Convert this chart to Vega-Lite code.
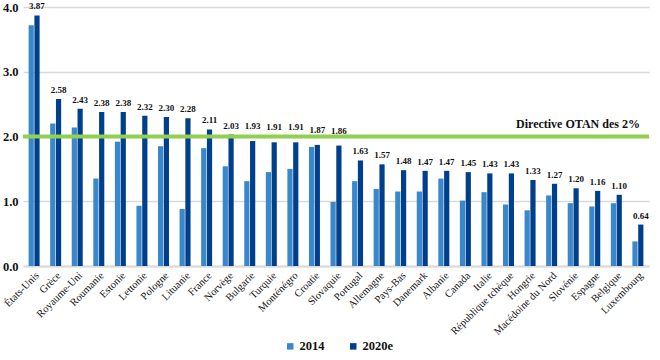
{
  "$schema": "https://vega.github.io/schema/vega-lite/v6.json",
  "width": 626,
  "height": 259,
  "padding": {"left": 2, "top": 1, "right": 6, "bottom": 0},
  "config": {"font": "Liberation Serif", "view": {"stroke": null}},
  "data": {"values": [
    {"pays": "États-Unis", "annee": "2014", "valeur": 3.72},
    {"pays": "États-Unis", "annee": "2020e", "valeur": 3.87},
    {"pays": "Grèce", "annee": "2014", "valeur": 2.20},
    {"pays": "Grèce", "annee": "2020e", "valeur": 2.58},
    {"pays": "Royaume-Uni", "annee": "2014", "valeur": 2.14},
    {"pays": "Royaume-Uni", "annee": "2020e", "valeur": 2.43},
    {"pays": "Roumanie", "annee": "2014", "valeur": 1.35},
    {"pays": "Roumanie", "annee": "2020e", "valeur": 2.38},
    {"pays": "Estonie", "annee": "2014", "valeur": 1.92},
    {"pays": "Estonie", "annee": "2020e", "valeur": 2.38},
    {"pays": "Lettonie", "annee": "2014", "valeur": 0.93},
    {"pays": "Lettonie", "annee": "2020e", "valeur": 2.32},
    {"pays": "Pologne", "annee": "2014", "valeur": 1.85},
    {"pays": "Pologne", "annee": "2020e", "valeur": 2.30},
    {"pays": "Lituanie", "annee": "2014", "valeur": 0.88},
    {"pays": "Lituanie", "annee": "2020e", "valeur": 2.28},
    {"pays": "France", "annee": "2014", "valeur": 1.82},
    {"pays": "France", "annee": "2020e", "valeur": 2.11},
    {"pays": "Norvège", "annee": "2014", "valeur": 1.54},
    {"pays": "Norvège", "annee": "2020e", "valeur": 2.03},
    {"pays": "Bulgarie", "annee": "2014", "valeur": 1.31},
    {"pays": "Bulgarie", "annee": "2020e", "valeur": 1.93},
    {"pays": "Turquie", "annee": "2014", "valeur": 1.45},
    {"pays": "Turquie", "annee": "2020e", "valeur": 1.91},
    {"pays": "Monténégro", "annee": "2014", "valeur": 1.50},
    {"pays": "Monténégro", "annee": "2020e", "valeur": 1.91},
    {"pays": "Croatie", "annee": "2014", "valeur": 1.84},
    {"pays": "Croatie", "annee": "2020e", "valeur": 1.87},
    {"pays": "Slovaquie", "annee": "2014", "valeur": 0.99},
    {"pays": "Slovaquie", "annee": "2020e", "valeur": 1.86},
    {"pays": "Portugal", "annee": "2014", "valeur": 1.31},
    {"pays": "Portugal", "annee": "2020e", "valeur": 1.63},
    {"pays": "Allemagne", "annee": "2014", "valeur": 1.19},
    {"pays": "Allemagne", "annee": "2020e", "valeur": 1.57},
    {"pays": "Pays-Bas", "annee": "2014", "valeur": 1.15},
    {"pays": "Pays-Bas", "annee": "2020e", "valeur": 1.48},
    {"pays": "Danemark", "annee": "2014", "valeur": 1.15},
    {"pays": "Danemark", "annee": "2020e", "valeur": 1.47},
    {"pays": "Albanie", "annee": "2014", "valeur": 1.35},
    {"pays": "Albanie", "annee": "2020e", "valeur": 1.47},
    {"pays": "Canada", "annee": "2014", "valeur": 1.01},
    {"pays": "Canada", "annee": "2020e", "valeur": 1.45},
    {"pays": "Italie", "annee": "2014", "valeur": 1.14},
    {"pays": "Italie", "annee": "2020e", "valeur": 1.43},
    {"pays": "République tchèque", "annee": "2014", "valeur": 0.95},
    {"pays": "République tchèque", "annee": "2020e", "valeur": 1.43},
    {"pays": "Hongrie", "annee": "2014", "valeur": 0.86},
    {"pays": "Hongrie", "annee": "2020e", "valeur": 1.33},
    {"pays": "Macédoine du Nord", "annee": "2014", "valeur": 1.09},
    {"pays": "Macédoine du Nord", "annee": "2020e", "valeur": 1.27},
    {"pays": "Slovénie", "annee": "2014", "valeur": 0.97},
    {"pays": "Slovénie", "annee": "2020e", "valeur": 1.20},
    {"pays": "Espagne", "annee": "2014", "valeur": 0.92},
    {"pays": "Espagne", "annee": "2020e", "valeur": 1.16},
    {"pays": "Belgique", "annee": "2014", "valeur": 0.97},
    {"pays": "Belgique", "annee": "2020e", "valeur": 1.10},
    {"pays": "Luxembourg", "annee": "2014", "valeur": 0.38},
    {"pays": "Luxembourg", "annee": "2020e", "valeur": 0.64}
  ]},
  "layer": [
    {
      "mark": {"type": "bar"},
      "encoding": {
        "x": {
          "field": "pays", "type": "nominal", "sort": null,
          "scale": {"paddingInner": 0.49, "paddingOuter": 0.26},
          "axis": {
            "title": null, "labelAngle": -45, "labelFontSize": 10.5, "labelColor": "#111111",
            "ticks": false, "domain": true, "domainColor": "#d9d9d9", "domainWidth": 2,
            "labelPadding": 4, "labelFont": "Liberation Serif"
          }
        },
        "xOffset": {"field": "annee", "type": "nominal", "scale": {"paddingInner": 0.1, "paddingOuter": 0}},
        "y": {
          "field": "valeur", "type": "quantitative",
          "scale": {"domain": [0, 4]},
          "axis": {
            "title": null, "values": [0, 0.5, 1, 1.5, 2, 2.5, 3, 3.5, 4], "format": ".1f",
            "labelFontSize": 12.5, "labelFontWeight": "bold", "labelColor": "#111111",
            "ticks": false, "domain": false, "gridColor": "#d9d9d9", "gridWidth": 1.5,
            "labelPadding": 5
          }
        },
        "color": {
          "field": "annee", "type": "nominal",
          "scale": {"domain": ["2014", "2020e"], "range": ["#3a88cc", "#003f8c"]},
          "legend": {
            "title": null, "orient": "none", "direction": "horizontal",
            "legendX": 261, "legendY": 333, "symbolType": "square", "symbolSize": 42,
            "symbolStrokeWidth": 0, "labelFontSize": 12.5, "labelFontWeight": "bold",
            "labelColor": "#111111", "columnPadding": 22, "labelOffset": 3
          }
        }
      }
    },
    {
      "data": {"values": [{"seuil": 2}]},
      "mark": {"type": "rule", "color": "#92d050", "strokeWidth": 4},
      "encoding": {"y": {"field": "seuil", "type": "quantitative"}}
    },
    {
      "transform": [{"filter": "datum.annee == '2020e' && (datum.valeur < 1.8 || datum.valeur > 2)"}],
      "mark": {"type": "text", "baseline": "bottom", "dy": -4, "fontSize": 9, "fontWeight": "bold", "color": "#111111"},
      "encoding": {
        "x": {"field": "pays", "type": "nominal", "sort": null},
        "xOffset": {"field": "annee", "type": "nominal"},
        "y": {"field": "valeur", "type": "quantitative"},
        "text": {"field": "valeur", "type": "quantitative", "format": ".2f"}
      }
    },
    {
      "transform": [{"filter": "datum.annee == '2020e' && datum.valeur >= 1.8 && datum.valeur <= 2"}],
      "mark": {"type": "text", "baseline": "bottom", "dy": -10, "fontSize": 9, "fontWeight": "bold", "color": "#111111"},
      "encoding": {
        "x": {"field": "pays", "type": "nominal", "sort": null},
        "xOffset": {"field": "annee", "type": "nominal"},
        "y": {"field": "valeur", "type": "quantitative"},
        "text": {"field": "valeur", "type": "quantitative", "format": ".2f"}
      }
    },
    {
      "data": {"values": [{"seuil": 2, "pays": "Luxembourg", "texte": "Directive OTAN des 2%"}]},
      "mark": {"type": "text", "align": "right", "baseline": "bottom", "dy": -6, "dx": 2, "fontSize": 12, "fontWeight": "bold", "color": "#111111"},
      "encoding": {
        "x": {"field": "pays", "type": "nominal", "sort": null},
        "y": {"field": "seuil", "type": "quantitative"},
        "text": {"field": "texte"}
      }
    }
  ]
}
